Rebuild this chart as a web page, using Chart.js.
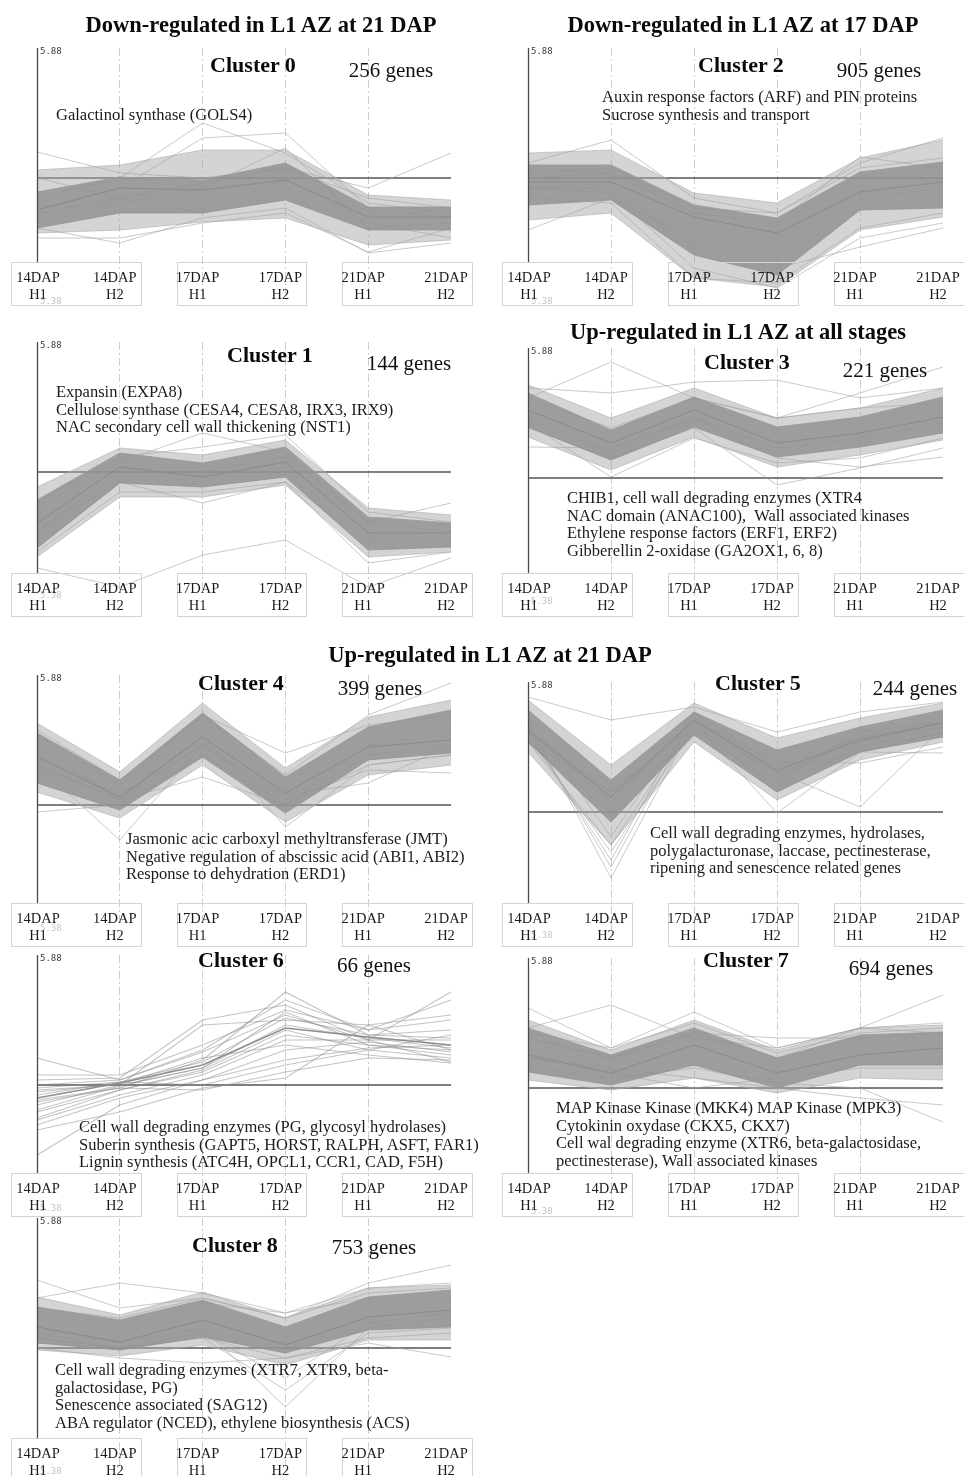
<!DOCTYPE html>
<html>
<head>
<meta charset="utf-8">
<script src="https://cdn.jsdelivr.net/npm/chart.js@4.4.0/dist/chart.umd.min.js"></script>
<style>
html,body{margin:0;padding:0;background:#fff;}
#page{position:relative;width:964px;height:1476px;overflow:hidden;background:#fff;font-family:"Liberation Serif","Times New Roman",serif;color:#111;}
#page canvas{position:absolute;}
.t{position:absolute;white-space:pre;}
.box{position:absolute;border:1px solid #d4d4d4;box-sizing:border-box;}
</style>
</head>
<body>
<div id="page"></div>
<script>
// Time points (stage, replicate) shared by every cluster profile
const stages = [['14DAP','H1'],['14DAP','H2'],['17DAP','H1'],['17DAP','H2'],['21DAP','H1'],['21DAP','H2']];
const yTicks = [5.38, 5.88];
const refLevel = 5.62;

// Cluster 0 – 256 genes
const c0CoreHigh  = [5.592,5.622,5.616,5.650,5.562,5.562];
const c0CoreLow   = [5.520,5.550,5.550,5.576,5.516,5.516];
const c0Mean      = [5.556,5.600,5.596,5.616,5.542,5.542];
const c0OuterHigh = [5.636,5.646,5.676,5.676,5.586,5.576];
const c0OuterLow  = [5.510,5.516,5.532,5.540,5.486,5.496];
const c0Genes = [
  [5.672,5.630,5.620,5.640,5.580,5.560],
  [5.580,5.620,5.730,5.670,5.570,5.550],
  [5.560,5.600,5.700,5.710,5.560,5.540],
  [5.550,5.580,5.610,5.640,5.600,5.670],
  [5.500,5.500,5.530,5.550,5.472,5.520],
  [5.520,5.490,5.540,5.560,5.470,5.490],
  [5.620,5.580,5.550,5.620,5.530,5.500],
  [5.530,5.570,5.600,5.680,5.520,5.530]
];

// Cluster 2 – 905 genes
const c2CoreHigh  = [5.646,5.646,5.566,5.540,5.632,5.652];
const c2CoreLow   = [5.566,5.576,5.466,5.426,5.556,5.560];
const c2Mean      = [5.612,5.612,5.542,5.510,5.592,5.612];
const c2OuterHigh = [5.670,5.676,5.590,5.570,5.660,5.696];
const c2OuterLow  = [5.536,5.550,5.420,5.402,5.516,5.542];
const c2Genes = [
  [5.650,5.696,5.580,5.550,5.640,5.660],
  [5.516,5.580,5.500,5.460,5.580,5.600],
  [5.620,5.630,5.550,5.530,5.662,5.640],
  [5.630,5.640,5.560,5.550,5.650,5.700],
  [5.580,5.570,5.420,5.410,5.520,5.550],
  [5.600,5.590,5.440,5.400,5.500,5.530],
  [5.600,5.600,5.480,5.440,5.482,5.520]
];

// Cluster 1 – 144 genes
const c1CoreHigh  = [5.564,5.658,5.638,5.670,5.530,5.518];
const c1CoreLow   = [5.468,5.598,5.590,5.610,5.464,5.470];
const c1Mean      = [5.518,5.630,5.610,5.640,5.498,5.498];
const c1OuterHigh = [5.590,5.668,5.654,5.684,5.548,5.534];
const c1OuterLow  = [5.450,5.570,5.570,5.594,5.450,5.460];
const c1Genes = [
  [5.550,5.640,5.698,5.660,5.520,5.500],
  [5.560,5.650,5.670,5.694,5.540,5.520],
  [5.500,5.600,5.558,5.600,5.480,5.490],
  [5.428,5.390,5.454,5.484,5.390,5.448],
  [5.500,5.620,5.620,5.650,5.520,5.558],
  [5.460,5.580,5.580,5.600,5.438,5.460]
];

// Cluster 3 – 221 genes
const c3CoreHigh  = [5.790,5.716,5.782,5.722,5.742,5.782];
const c3CoreLow   = [5.722,5.656,5.722,5.662,5.682,5.710];
const c3Mean      = [5.756,5.690,5.756,5.690,5.710,5.742];
const c3OuterHigh = [5.806,5.740,5.800,5.740,5.760,5.800];
const c3OuterLow  = [5.702,5.636,5.702,5.642,5.666,5.696];
const c3Genes = [
  [5.780,5.852,5.780,5.740,5.760,5.770],
  [5.730,5.622,5.700,5.650,5.660,5.700],
  [5.720,5.660,5.720,5.606,5.640,5.680],
  [5.800,5.790,5.812,5.816,5.780,5.800],
  [5.780,5.720,5.780,5.740,5.790,5.842],
  [5.682,5.680,5.740,5.680,5.700,5.730],
  [5.740,5.670,5.740,5.660,5.642,5.662]
];

// Cluster 4 – 399 genes
const c4CoreHigh  = [5.764,5.670,5.804,5.676,5.776,5.810];
const c4CoreLow   = [5.664,5.610,5.716,5.604,5.710,5.724];
const c4Mean      = [5.716,5.636,5.756,5.644,5.736,5.750];
const c4OuterHigh = [5.784,5.686,5.824,5.694,5.796,5.830];
const c4OuterLow  = [5.646,5.594,5.700,5.586,5.680,5.700];
const c4Genes = [
  [5.606,5.620,5.720,5.620,5.720,5.740],
  [5.700,5.550,5.740,5.620,5.740,5.760],
  [5.700,5.630,5.676,5.620,5.700,5.720],
  [5.740,5.630,5.760,5.576,5.700,5.720],
  [5.760,5.660,5.800,5.724,5.780,5.800],
  [5.770,5.670,5.800,5.680,5.800,5.864],
  [5.700,5.630,5.740,5.630,5.690,5.684],
  [5.720,5.640,5.740,5.640,5.664,5.740]
];

// Cluster 5 – 244 genes
const c5CoreHigh  = [5.824,5.684,5.820,5.744,5.790,5.824];
const c5CoreLow   = [5.760,5.600,5.774,5.660,5.740,5.770];
const c5Mean      = [5.784,5.650,5.804,5.704,5.764,5.798];
const c5OuterHigh = [5.844,5.714,5.838,5.768,5.808,5.838];
const c5OuterLow  = [5.740,5.554,5.760,5.644,5.724,5.760];
const c5Genes = [
  [5.850,5.804,5.830,5.780,5.820,5.840],
  [5.800,5.488,5.800,5.700,5.760,5.800],
  [5.780,5.524,5.820,5.680,5.780,5.800],
  [5.760,5.554,5.800,5.660,5.740,5.780],
  [5.790,5.510,5.810,5.690,5.770,5.790],
  [5.770,5.540,5.790,5.670,5.750,5.790],
  [5.810,5.570,5.820,5.710,5.770,5.800],
  [5.780,5.640,5.800,5.618,5.740,5.780],
  [5.780,5.660,5.790,5.700,5.630,5.790],
  [5.760,5.660,5.800,5.720,5.718,5.750],
  [5.760,5.620,5.780,5.700,5.740,5.738]
];

// Cluster 6 – 66 genes
const c6Mean = [5.594,5.624,5.660,5.734,5.716,5.700];
const c6Genes = [
  [5.674,5.630,5.690,5.790,5.730,5.790],
  [5.630,5.634,5.750,5.780,5.710,5.806],
  [5.610,5.620,5.740,5.750,5.740,5.760],
  [5.590,5.614,5.670,5.806,5.720,5.730],
  [5.570,5.618,5.654,5.766,5.700,5.690],
  [5.554,5.610,5.650,5.730,5.690,5.674],
  [5.550,5.600,5.640,5.710,5.710,5.666],
  [5.480,5.580,5.630,5.670,5.694,5.700],
  [5.530,5.566,5.614,5.634,5.740,5.690],
  [5.620,5.630,5.686,5.760,5.710,5.710],
  [5.600,5.626,5.666,5.754,5.720,5.714],
  [5.580,5.620,5.654,5.740,5.714,5.694],
  [5.566,5.610,5.646,5.720,5.700,5.680],
  [5.606,5.622,5.674,5.700,5.680,5.664],
  [5.614,5.626,5.620,5.660,5.690,5.720],
  [5.586,5.614,5.610,5.646,5.674,5.670],
  [5.640,5.640,5.700,5.770,5.730,5.750],
  [5.540,5.594,5.630,5.690,5.706,5.686]
];

// Cluster 7 – 694 genes
const c7CoreHigh  = [5.740,5.686,5.740,5.680,5.726,5.732];
const c7CoreLow   = [5.652,5.626,5.666,5.620,5.666,5.666];
const c7Mean      = [5.686,5.650,5.706,5.650,5.686,5.700];
const c7OuterHigh = [5.756,5.696,5.756,5.696,5.740,5.746];
const c7OuterLow  = [5.636,5.616,5.640,5.610,5.640,5.636];
const c7Genes = [
  [5.740,5.786,5.720,5.700,5.740,5.750],
  [5.780,5.700,5.750,5.690,5.730,5.740],
  [5.730,5.700,5.772,5.700,5.740,5.730],
  [5.720,5.680,5.730,5.680,5.740,5.806],
  [5.660,5.640,5.660,5.630,5.620,5.552],
  [5.680,5.660,5.640,5.620,5.600,5.586],
  [5.680,5.650,5.620,5.640,5.660,5.660],
  [5.720,5.680,5.730,5.720,5.720,5.730]
];

// Cluster 8 – 753 genes
const c8CoreHigh  = [5.702,5.676,5.716,5.662,5.722,5.736];
const c8CoreLow   = [5.630,5.616,5.642,5.610,5.656,5.662];
const c8Mean      = [5.662,5.632,5.676,5.626,5.682,5.696];
const c8OuterHigh = [5.722,5.686,5.732,5.680,5.740,5.746];
const c8OuterLow  = [5.616,5.604,5.626,5.586,5.636,5.636];
const c8Genes = [
  [5.756,5.700,5.720,5.680,5.730,5.740],
  [5.720,5.750,5.730,5.690,5.740,5.750],
  [5.700,5.680,5.720,5.680,5.750,5.786],
  [5.660,5.630,5.660,5.502,5.660,5.680],
  [5.640,5.620,5.640,5.536,5.650,5.660],
  [5.650,5.620,5.650,5.560,5.670,5.690],
  [5.620,5.600,5.590,5.600,5.640,5.650],
  [5.640,5.620,5.640,5.600,5.630,5.602],
  [5.690,5.660,5.710,5.690,5.720,5.720]
];

// Panel layout and annotation text
const panels = [
  {name:'Cluster 0', count:'256 genes', col:0, y0:48, box:262, nameAt:[253,65], countAt:[391,70], notesAt:[56,115],
   core:[c0CoreHigh,c0CoreLow], outer:[c0OuterHigh,c0OuterLow], mean:c0Mean, genes:c0Genes,
   notes:['Galactinol synthase (GOLS4)']},
  {name:'Cluster 2', count:'905 genes', col:1, y0:48, box:262, nameAt:[741,65], countAt:[879,70], notesAt:[602,97],
   core:[c2CoreHigh,c2CoreLow], outer:[c2OuterHigh,c2OuterLow], mean:c2Mean, genes:c2Genes,
   notes:['Auxin response factors (ARF) and PIN proteins','Sucrose synthesis and transport']},
  {name:'Cluster 1', count:'144 genes', col:0, y0:342, box:573, nameAt:[270,355], countAt:[409,363], notesAt:[56,392],
   core:[c1CoreHigh,c1CoreLow], outer:[c1OuterHigh,c1OuterLow], mean:c1Mean, genes:c1Genes,
   notes:['Expansin (EXPA8)','Cellulose synthase (CESA4, CESA8, IRX3, IRX9)','NAC secondary cell wall thickening (NST1)']},
  {name:'Cluster 3', count:'221 genes', col:1, y0:348, box:573, nameAt:[747,362], countAt:[885,370], notesAt:[567,498],
   core:[c3CoreHigh,c3CoreLow], outer:[c3OuterHigh,c3OuterLow], mean:c3Mean, genes:c3Genes,
   notes:['CHIB1, cell wall degrading enzymes (XTR4','NAC domain (ANAC100),  Wall associated kinases','Ethylene response factors (ERF1, ERF2)','Gibberellin 2-oxidase (GA2OX1, 6, 8)']},
  {name:'Cluster 4', count:'399 genes', col:0, y0:675, box:903, nameAt:[241,683], countAt:[380,688], notesAt:[126,839],
   core:[c4CoreHigh,c4CoreLow], outer:[c4OuterHigh,c4OuterLow], mean:c4Mean, genes:c4Genes,
   notes:['Jasmonic acic carboxyl methyltransferase (JMT)','Negative regulation of abscissic acid (ABI1, ABI2)','Response to dehydration (ERD1)']},
  {name:'Cluster 5', count:'244 genes', col:1, y0:682, box:903, nameAt:[758,683], countAt:[915,688], notesAt:[650,833],
   core:[c5CoreHigh,c5CoreLow], outer:[c5OuterHigh,c5OuterLow], mean:c5Mean, genes:c5Genes,
   notes:['Cell wall degrading enzymes, hydrolases,','polygalacturonase, laccase, pectinesterase,','ripening and senescence related genes']},
  {name:'Cluster 6', count:'66 genes', col:0, y0:955, box:1173, nameAt:[241,960], countAt:[374,965], notesAt:[79,1127],
   core:null, outer:null, mean:c6Mean, genes:c6Genes,
   notes:['Cell wall degrading enzymes (PG, glycosyl hydrolases)','Suberin synthesis (GAPT5, HORST, RALPH, ASFT, FAR1)','Lignin synthesis (ATC4H, OPCL1, CCR1, CAD, F5H)']},
  {name:'Cluster 7', count:'694 genes', col:1, y0:958, box:1173, nameAt:[746,960], countAt:[891,968], notesAt:[556,1108],
   core:[c7CoreHigh,c7CoreLow], outer:[c7OuterHigh,c7OuterLow], mean:c7Mean, genes:c7Genes,
   notes:['MAP Kinase Kinase (MKK4) MAP Kinase (MPK3)','Cytokinin oxydase (CKX5, CKX7)','Cell wal degrading enzyme (XTR6, beta-galactosidase,','pectinesterase), Wall associated kinases']},
  {name:'Cluster 8', count:'753 genes', col:0, y0:1218, box:1438, nameAt:[235,1245], countAt:[374,1247], notesAt:[55,1370],
   core:[c8CoreHigh,c8CoreLow], outer:[c8OuterHigh,c8OuterLow], mean:c8Mean, genes:c8Genes,
   notes:['Cell wall degrading enzymes (XTR7, XTR9, beta-','galactosidase, PG)','Senescence associated (SAG12)','ABA regulator (NCED), ethylene biosynthesis (ACS)']}
];

const sectionTitles = [
  ['Down-regulated in L1 AZ at 21 DAP', 261, 25],
  ['Down-regulated in L1 AZ at 17 DAP', 743, 25],
  ['Up-regulated in L1 AZ at all stages', 738, 332],
  ['Up-regulated in L1 AZ at 21 DAP', 490, 655]
];

const page = document.getElementById('page');
const PAD = 12, PLOT_H = 250;
const columns = [{left:37, right:451}, {left:528, right:943}];

// y gives the centre of the first text line
function addText(str, x, y, css, align) {
  const d = document.createElement('div');
  d.className = 't';
  d.textContent = str;
  Object.assign(d.style, css);
  const lh = parseFloat(css.lineHeight);
  d.style.top = (y - lh / 2) + 'px';
  if (align === 'center') {
    d.style.left = (x - 300) + 'px';
    d.style.width = '600px';
    d.style.textAlign = 'center';
  } else {
    d.style.left = x + 'px';
  }
  page.appendChild(d);
  return d;
}

// Vertical axis line that stops where the stage-label boxes begin
const axisLine = {
  id: 'axisLine',
  afterDatasetsDraw(chart, args, opts) {
    const {ctx, chartArea, scales} = chart;
    const top = scales.y.getPixelForValue(scales.y.max);
    ctx.save();
    ctx.strokeStyle = '#4a4a4a';
    ctx.lineWidth = 1.3;
    ctx.beginPath();
    ctx.moveTo(chartArea.left + 0.5, top);
    ctx.lineTo(chartArea.left + 0.5, opts.end);
    ctx.stroke();
    ctx.restore();
  }
};

function buildPanel(p) {
  const col = columns[p.col];
  const w = col.right - col.left + 2 * PAD;
  const h = PLOT_H + 2 * PAD;
  const cLeft = col.left - PAD, cTop = p.y0 - PAD;
  const cv = document.createElement('canvas');
  cv.width = w; cv.height = h;
  cv.style.left = cLeft + 'px';
  cv.style.top = cTop + 'px';
  cv.style.width = w + 'px';
  cv.style.height = h + 'px';
  page.appendChild(cv);

  const datasets = [];
  datasets.push({data: stages.map(() => refLevel), borderColor: '#555', borderWidth: 1.3, fill: false, order: 60});
  if (p.outer) {
    datasets.push({data: p.outer[0], fill: '+1', backgroundColor: 'rgba(170,170,170,0.5)', borderColor: 'rgba(175,175,175,0.6)', borderWidth: 1, order: 50});
    datasets.push({data: p.outer[1], fill: false, borderColor: 'rgba(175,175,175,0.6)', borderWidth: 1, order: 50});
  }
  const geneColor = p.core ? 'rgba(165,165,165,0.6)' : 'rgba(135,135,135,0.5)';
  p.genes.forEach(g => datasets.push({data: g, fill: false, borderColor: geneColor, borderWidth: p.core ? 1 : 1.1, order: 40}));
  if (p.core) {
    datasets.push({data: p.core[0], fill: '+1', backgroundColor: 'rgba(145,145,145,0.82)', borderColor: 'rgba(155,155,155,0.9)', borderWidth: 1, order: 30});
    datasets.push({data: p.core[1], fill: false, borderColor: 'rgba(155,155,155,0.9)', borderWidth: 1, order: 30});
  }
  datasets.push({data: p.mean, fill: false, borderColor: p.core ? '#8a8a8a' : '#8e8e8e', borderWidth: p.core ? 1 : 1.6, order: 20});

  const chart = new Chart(cv, {
    type: 'line',
    data: {labels: stages.map(s => s.join(' ')), datasets},
    plugins: [axisLine],
    options: {
      responsive: false,
      animation: false,
      events: [],
      devicePixelRatio: 1,
      layout: {padding: PAD},
      elements: {point: {radius: 0}, line: {tension: 0}},
      plugins: {
        legend: {display: false},
        tooltip: {enabled: false},
        axisLine: {end: p.box - cTop}
      },
      scales: {
        x: {
          type: 'category', offset: false,
          ticks: {display: false},
          grid: {drawTicks: false, offset: false, lineWidth: 1,
                 color: c => (c.index > 0 && c.index < stages.length - 1) ? '#cdcdcd' : 'rgba(0,0,0,0)'},
          border: {display: false, dash: [8, 3, 2, 3]},
          afterFit: s => { s.height = 0; }
        },
        y: {
          min: yTicks[0], max: yTicks[1],
          afterBuildTicks: s => { s.ticks = yTicks.map(v => ({value: v})); },
          ticks: {mirror: true, padding: 3, labelOffset: 4,
                  font: {family: 'DejaVu Sans Mono', size: 9},
                  color: c => c.tick.value === yTicks[1] ? '#3a3a3a' : '#c4c4c4',
                  callback: v => Number(v).toFixed(2)},
          grid: {display: false, drawTicks: false},
          border: {display: false},
          afterFit: s => { s.width = 0; }
        }
      }
    }
  });

  // Stage boxes and labels positioned from the category scale
  const xs = stages.map((s, i) => cLeft + chart.scales.x.getPixelForValue(i));
  for (let k = 0; k < 3; k++) {
    const b = document.createElement('div');
    b.className = 'box';
    const l = xs[2 * k] - 26, r = xs[2 * k + 1] + 22;
    b.style.left = l + 'px';
    b.style.width = (r - l) + 'px';
    b.style.top = p.box + 'px';
    b.style.height = '44px';
    page.appendChild(b);
  }
  stages.forEach((s, i) => {
    const cx = xs[i] - 5 + (i === 0 ? 6 : 0);
    addText(s[0] + '\n' + s[1], cx, p.box + 15, {fontSize: '14.5px', lineHeight: '17px', color: '#1a1a1a'}, 'center');
  });

  addText(p.name, p.nameAt[0], p.nameAt[1], {fontSize: '22px', fontWeight: 'bold', lineHeight: '26px', color: '#0a0a0a'}, 'center');
  addText(p.count, p.countAt[0], p.countAt[1], {fontSize: '21px', lineHeight: '24px', color: '#111'}, 'center');
  p.notes.forEach((n, i) => {
    addText(n, p.notesAt[0], p.notesAt[1] + i * 17.6, {fontSize: '16.5px', lineHeight: '18px', color: '#1a1a1a'}, 'left');
  });
}

panels.forEach(buildPanel);
sectionTitles.forEach(t => addText(t[0], t[1], t[2], {fontSize: '22.5px', fontWeight: 'bold', lineHeight: '26px', color: '#0a0a0a'}, 'center'));
</script>
</body>
</html>
